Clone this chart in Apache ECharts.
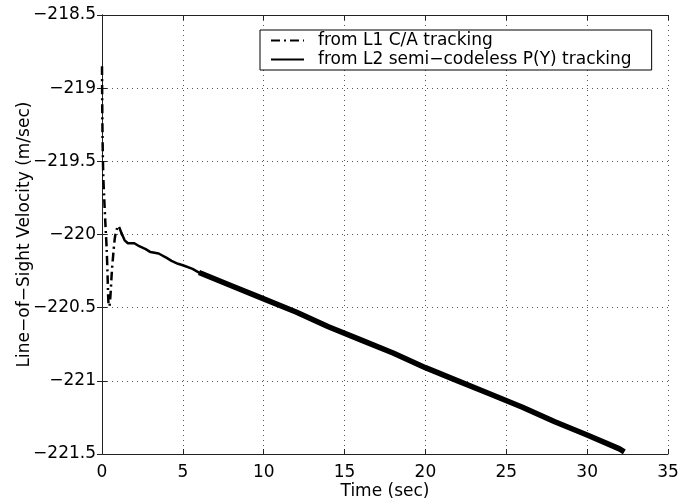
<!DOCTYPE html>
<html>
<head>
<meta charset="utf-8">
<script src="https://cdn.jsdelivr.net/npm/echarts@6/dist/echarts.min.js"></script>
<style>html,body{margin:0;padding:0;background:#fff;}#c{width:681px;height:501px;}</style>
</head>
<body>
<div id="c"></div>
<script>
// ---- data ----
const xTicks = [0, 5, 10, 15, 20, 25, 30, 35];
const yTicks = [-221.5, -221, -220.5, -220, -219.5, -219, -218.5];

const l1Name = 'from L1 C/A tracking';
const l2Name = 'from L2 semi\u2212codeless P(Y) tracking';

// L1 C/A tracking (dash-dot): [time, velocity]
const l1Time = [0, 0.03, 0.08, 0.14, 0.22, 0.29, 0.35, 0.40, 0.45, 0.52, 0.60, 0.70, 0.80, 0.90, 1.00, 1.10, 1.20, 1.30];
const l1Vel  = [-218.85, -219.3, -219.6, -219.76, -219.95, -220.1, -220.3, -220.47, -220.49, -220.42, -220.27, -220.13, -220.02, -219.97, -219.94, -219.96, -219.99, -220.02];

// L2 semi-codeless tracking, early (thinner) segment
const l2aTime = [1.2, 1.4, 1.6, 2.0, 2.3, 2.7, 3.0, 3.5, 4.0, 4.3, 4.7, 5.0, 5.6, 6.0, 6.5];
const l2aVel  = [-219.99, -220.04, -220.06, -220.06, -220.08, -220.10, -220.12, -220.13, -220.16, -220.18, -220.20, -220.21, -220.235, -220.26, -220.28];

// L2 semi-codeless tracking, later (noisy, thick) segment
const l2bTime = [6.0, 8, 10, 12, 14, 16, 18, 20, 22, 24, 26, 28, 30, 32, 32.3];
const l2bVel  = [-220.26, -220.35, -220.44, -220.53, -220.63, -220.72, -220.81, -220.91, -221.0, -221.09, -221.18, -221.28, -221.37, -221.465, -221.485];

const zip = (a, b) => a.map((v, i) => [v, b[i]]);
const fmt = v => (v < 0 ? '\u2212' : '') + Math.abs(v);

const FONT = 'DejaVu Sans';
const FS = 17;
const AX = '#222';

const chart = echarts.init(document.getElementById('c'), null, {renderer: 'canvas'});
const hiddenAxis = {
  axisLine: {show: true, lineStyle: {color: AX, width: 1}},
  axisTick: {show: true, inside: true, length: 5, lineStyle: {color: AX}},
  axisLabel: {show: false},
  splitLine: {show: false}
};
chart.setOption({
  backgroundColor: '#fff',
  animation: false,
  color: ['#000', '#000', '#000'],
  grid: {left: 102, right: 13, top: 15, bottom: 47, containLabel: false, outerBoundsMode: 'none'},
  legend: {
    data: [l1Name, l2Name],
    orient: 'vertical',
    left: 260, top: 30,
    padding: [2, 20, 2, 10],
    itemGap: 2,
    itemWidth: 33, itemHeight: 12,
    borderColor: '#000', borderWidth: 1,
    backgroundColor: '#fff',
    itemStyle: {opacity: 0},
    textStyle: {fontFamily: FONT, fontSize: FS, color: '#000', padding: [0, 0, 0, 9]}
  },
  xAxis: [{
    type: 'value', min: 0, max: 35, interval: 5,
    name: 'Time (sec)', nameLocation: 'middle', nameGap: 29, nameMoveOverlap: false,
    nameTextStyle: {fontFamily: FONT, fontSize: FS, color: '#000'},
    axisLine: {show: true, onZero: false, lineStyle: {color: AX, width: 1}},
    axisTick: {show: true, inside: true, length: 5, lineStyle: {color: AX}},
    axisLabel: {fontFamily: FONT, fontSize: FS, color: '#000', margin: 10, formatter: v => xTicks.includes(v) ? fmt(v) : ''},
    splitLine: {show: true, lineStyle: {color: '#555', width: 1, type: [1, 4]}}
  }, Object.assign({type: 'value', position: 'top', min: 0, max: 35, interval: 5}, hiddenAxis)],
  yAxis: [{
    type: 'value', min: -221.5, max: -218.5, interval: 0.5,
    name: 'Line\u2212of\u2212Sight Velocity (m/sec)', nameLocation: 'middle', nameGap: 69, nameMoveOverlap: false,
    nameTextStyle: {fontFamily: FONT, fontSize: FS, color: '#000'},
    axisLine: {show: true, onZero: false, lineStyle: {color: AX, width: 1}},
    axisTick: {show: true, inside: true, length: 5, lineStyle: {color: AX}},
    axisLabel: {fontFamily: FONT, fontSize: FS, color: '#000', margin: 6, formatter: v => yTicks.includes(v) ? fmt(v) : ''},
    splitLine: {show: true, lineStyle: {color: '#555', width: 1, type: [1, 4]}}
  }, Object.assign({type: 'value', position: 'right', min: -221.5, max: -218.5, interval: 0.5}, hiddenAxis)],
  series: [
    {
      name: l1Name, type: 'line', data: zip(l1Time, l1Vel), symbol: 'none', smooth: 0.3,
      itemStyle: {color: '#000'},
      lineStyle: {color: '#000', width: 2.5, type: [9, 4, 2, 4]}, z: 3
    },
    {
      name: l2Name, type: 'line', data: zip(l2aTime, l2aVel), symbol: 'none',
      itemStyle: {color: '#000'},
      lineStyle: {color: '#000', width: 2.5}, z: 4
    },
    {
      name: l2Name, type: 'line', data: zip(l2bTime, l2bVel), symbol: 'none',
      itemStyle: {color: '#000'},
      lineStyle: {color: '#000', width: 5.5, cap: 'butt'}, z: 4
    }
  ]
});
</script>
</body>
</html>
